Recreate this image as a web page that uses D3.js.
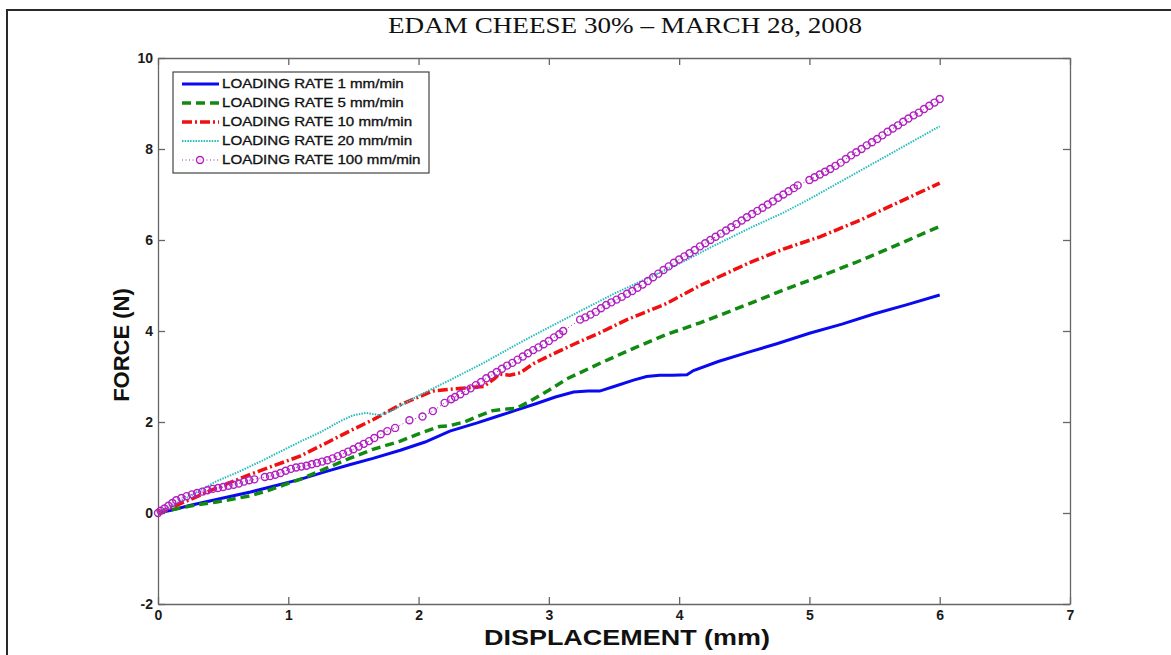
<!doctype html>
<meta charset=utf8>
<title>Edam cheese 30%</title>
<style>
  body {
    margin: 0;
    background: white;
  }

  svg {
    display: block;
  }

  .axis path,
  .axis line {
    stroke: #666;
    stroke-width: 1.3;
  }

  .axis text {
    font-family: "Liberation Sans", Arial, sans-serif;
    font-weight: bold;
    font-size: 14px;
    fill: #1a1a1a;
  }

  .line {
    fill: none;
  }
</style>
<svg width=1171 height=655></svg>
<script src=https://d3js.org/d3.v7.min.js></script>
<script>
  // Series: [displacement (mm), force (N)]
  var rate1 = [
    [0, 0], [0.1, 0.06], [0.25, 0.17], [0.5, 0.33], [0.71, 0.46], [0.9, 0.6], [1.09, 0.74],
    [1.3, 0.92], [1.47, 1.06], [1.65, 1.2], [1.86, 1.38], [2.05, 1.56], [2.24, 1.8], [2.45, 1.98],
    [2.6, 2.12], [2.75, 2.26], [2.9, 2.4], [3.05, 2.55], [3.19, 2.66], [3.3, 2.68], [3.39, 2.68],
    [3.5, 2.78], [3.65, 2.92], [3.75, 3.0], [3.85, 3.03], [3.95, 3.03], [4.06, 3.04], [4.11, 3.13],
    [4.3, 3.33], [4.54, 3.54], [4.75, 3.72], [5.0, 3.95], [5.25, 4.15], [5.5, 4.38], [5.75, 4.58],
    [6.0, 4.79]
  ];

  var rate5 = [
    [0, 0], [0.15, 0.1], [0.3, 0.18], [0.45, 0.24], [0.6, 0.32], [0.71, 0.38], [0.85, 0.5],
    [1.0, 0.65], [1.09, 0.74], [1.25, 0.93], [1.47, 1.2], [1.65, 1.4], [1.86, 1.58], [2.0, 1.74],
    [2.16, 1.9], [2.24, 1.92], [2.35, 2.0], [2.45, 2.12], [2.57, 2.25], [2.65, 2.28], [2.75, 2.3],
    [2.85, 2.45], [3.0, 2.7], [3.14, 2.95], [3.4, 3.3], [3.65, 3.62], [3.9, 3.92], [4.16, 4.18],
    [4.54, 4.6], [4.8, 4.9], [5.08, 5.2], [5.35, 5.5], [5.6, 5.8], [5.8, 6.05], [6.0, 6.3]
  ];

  var rate10 = [
    [0, 0], [0.1, 0.12], [0.25, 0.3], [0.45, 0.55], [0.71, 0.85], [0.9, 1.05], [1.09, 1.25],
    [1.3, 1.55], [1.47, 1.8], [1.65, 2.05], [1.86, 2.38], [2.0, 2.55], [2.11, 2.68], [2.25, 2.72],
    [2.37, 2.75], [2.5, 2.78], [2.58, 2.95], [2.62, 3.05], [2.7, 3.03], [2.78, 3.08], [2.88, 3.28],
    [3.0, 3.45], [3.2, 3.72], [3.39, 3.96], [3.6, 4.25], [3.9, 4.6], [4.16, 5.0], [4.54, 5.5],
    [4.8, 5.8], [5.08, 6.07], [5.4, 6.45], [5.7, 6.85], [6.0, 7.25]
  ];

  var rate20 = [
    [0, 0], [0.1, 0.15], [0.25, 0.38], [0.45, 0.7], [0.6, 0.88], [0.8, 1.15], [0.96, 1.38],
    [1.1, 1.58], [1.25, 1.78], [1.4, 2.02], [1.5, 2.15], [1.6, 2.2], [1.7, 2.15], [1.8, 2.25],
    [1.9, 2.42], [2.0, 2.58], [2.24, 2.92], [2.5, 3.3], [2.75, 3.7], [3.0, 4.08], [3.25, 4.45],
    [3.5, 4.82], [3.75, 5.15], [4.0, 5.48], [4.25, 5.85], [4.57, 6.3], [4.8, 6.6], [5.0, 6.9],
    [5.25, 7.3], [5.5, 7.7], [5.75, 8.1], [6.0, 8.5]
  ];

  var rate100 = [
    [0, 0], [0.02, 0.05], [0.05, 0.1], [0.08, 0.16], [0.11, 0.22], [0.14, 0.28], [0.18, 0.33],
    [0.22, 0.37], [0.26, 0.41], [0.3, 0.44], [0.34, 0.47], [0.38, 0.5], [0.42, 0.53], [0.46, 0.55],
    [0.5, 0.57], [0.54, 0.6], [0.58, 0.62], [0.62, 0.65], [0.66, 0.69], [0.7, 0.72], [0.74, 0.74],
    [0.82, 0.79], [0.86, 0.81], [0.9, 0.84], [0.94, 0.88], [0.98, 0.93], [1.02, 0.97], [1.06, 1.0],
    [1.1, 1.02], [1.14, 1.04], [1.18, 1.07], [1.22, 1.1], [1.26, 1.13], [1.3, 1.16], [1.34, 1.2],
    [1.38, 1.25], [1.42, 1.3], [1.46, 1.35], [1.5, 1.4], [1.54, 1.46], [1.58, 1.52], [1.62, 1.58],
    [1.66, 1.65], [1.71, 1.73], [1.76, 1.8], [1.82, 1.87], [1.93, 2.04], [2.03, 2.12], [2.11, 2.24],
    [2.2, 2.42], [2.25, 2.5], [2.28, 2.55], [2.32, 2.61], [2.36, 2.68], [2.4, 2.74], [2.44, 2.81],
    [2.48, 2.88], [2.52, 2.96], [2.56, 3.03], [2.6, 3.1], [2.64, 3.17], [2.68, 3.24], [2.72, 3.3],
    [2.76, 3.37], [2.8, 3.44], [2.84, 3.51], [2.88, 3.58], [2.92, 3.64], [2.96, 3.71], [3.0, 3.78],
    [3.04, 3.86], [3.08, 3.93], [3.11, 4.0], [3.24, 4.25], [3.28, 4.3], [3.32, 4.36], [3.36, 4.42],
    [3.4, 4.5], [3.44, 4.57], [3.48, 4.63], [3.52, 4.69], [3.56, 4.75], [3.6, 4.82], [3.64, 4.88],
    [3.68, 4.95], [3.72, 5.02], [3.76, 5.1], [3.8, 5.18], [3.84, 5.26], [3.88, 5.34], [3.92, 5.42],
    [3.96, 5.5], [4.0, 5.57], [4.04, 5.64], [4.08, 5.71], [4.12, 5.78], [4.16, 5.86], [4.2, 5.93],
    [4.24, 6.0], [4.28, 6.07], [4.32, 6.14], [4.36, 6.21], [4.4, 6.28], [4.44, 6.35], [4.48, 6.43],
    [4.52, 6.5], [4.56, 6.57], [4.6, 6.64], [4.64, 6.71], [4.68, 6.78], [4.72, 6.85], [4.76, 6.93],
    [4.8, 7.0], [4.84, 7.07], [4.88, 7.14], [4.91, 7.2], [5.0, 7.32], [5.04, 7.38], [5.08, 7.44],
    [5.12, 7.5], [5.16, 7.56], [5.2, 7.63], [5.24, 7.7], [5.28, 7.78], [5.32, 7.86], [5.36, 7.93],
    [5.4, 8.0], [5.44, 8.08], [5.48, 8.15], [5.52, 8.22], [5.56, 8.3], [5.6, 8.38], [5.64, 8.45],
    [5.68, 8.52], [5.72, 8.6], [5.76, 8.67], [5.8, 8.74], [5.84, 8.8], [5.88, 8.88], [5.92, 8.95],
    [5.96, 9.02], [6.0, 9.1]
  ];

  var seriesNames = [
    'LOADING RATE 1 mm/min',
    'LOADING RATE 5 mm/min',
    'LOADING RATE 10 mm/min',
    'LOADING RATE 20 mm/min',
    'LOADING RATE 100 mm/min'
  ];
  var xTicks = [0, 1, 2, 3, 4, 5, 6, 7];
  var yTicks = [-2, 0, 2, 4, 6, 8, 10];

  var styles = [
    { color: '#0a0af0', width: 3, dash: null },
    { color: '#108a10', width: 3.5, dash: '9,5' },
    { color: '#f01010', width: 3.5, dash: '10,3,2,3' },
    { color: '#28bcbc', width: 2, dash: '1.5,1.2' },
    { color: '#b020c0', width: 1, dash: '1,2.5' }
  ];

  var series = [rate1, rate5, rate10, rate20, rate100].map(function(values, i) {
    return { name: seriesNames[i], values: values, style: styles[i] };
  });

  var svg = d3.select('svg');
  var margin = { top: 58, right: 101, bottom: 51, left: 158 };
  var width = 1171 - margin.left - margin.right;
  var height = 655 - margin.top - margin.bottom;

  // outer frame of the scanned figure
  svg.append('path')
    .attr('d', 'M7,655V10H1171')
    .attr('fill', 'none')
    .attr('stroke', '#2a2a2a')
    .attr('stroke-width', 2);

  svg.append('text')
    .attr('x', 625)
    .attr('y', 33)
    .attr('text-anchor', 'middle')
    .attr('textLength', 474)
    .attr('lengthAdjust', 'spacingAndGlyphs')
    .style('font-family', '"Liberation Serif", "Times New Roman", serif')
    .style('font-size', '24px')
    .style('fill', '#111')
    .text('EDAM CHEESE 30% \u2013 MARCH 28, 2008');

  var g = svg.append('g').attr('transform', 'translate(' + margin.left + ',' + margin.top + ')');

  var x = d3.scaleLinear().domain([0, 7]).range([0, width]);
  var y = d3.scaleLinear().domain([-2, 10]).range([height, 0]);

  function plain(d) {
    return String(d);
  }

  g.append('g')
    .attr('class', 'axis x')
    .attr('transform', 'translate(0,' + height + ')')
    .call(d3.axisBottom(x).tickValues(xTicks).tickFormat(plain)
      .tickSize(-7).tickSizeOuter(0).tickPadding(6));

  g.append('g')
    .attr('class', 'axis')
    .call(d3.axisTop(x).tickValues(xTicks).tickSize(-7).tickSizeOuter(0).tickFormat(''));

  g.append('g')
    .attr('class', 'axis y')
    .call(d3.axisLeft(y).tickValues(yTicks).tickFormat(plain)
      .tickSize(-7).tickSizeOuter(0).tickPadding(5));

  g.append('g')
    .attr('class', 'axis')
    .attr('transform', 'translate(' + width + ',0)')
    .call(d3.axisRight(y).tickValues(yTicks).tickSize(-7).tickSizeOuter(0).tickFormat(''));

  svg.append('text')
    .attr('x', 627)
    .attr('y', 645)
    .attr('text-anchor', 'middle')
    .attr('textLength', 286)
    .attr('lengthAdjust', 'spacingAndGlyphs')
    .style('font-family', '"Liberation Sans", Arial, sans-serif')
    .style('font-weight', 'bold')
    .style('font-size', '22px')
    .style('fill', '#111')
    .text('DISPLACEMENT (mm)');

  svg.append('text')
    .attr('transform', 'translate(129,345) rotate(-90)')
    .attr('text-anchor', 'middle')
    .style('font-family', '"Liberation Sans", Arial, sans-serif')
    .style('font-weight', 'bold')
    .style('font-size', '22px')
    .style('fill', '#111')
    .text('FORCE (N)');

  var line = d3.line()
    .x(function(d) { return x(d[0]); })
    .y(function(d) { return y(d[1]); });

  var place = g.selectAll('.series')
    .data(series)
    .enter()
    .append('g')
    .attr('class', 'series');

  place.append('path')
    .attr('class', 'line')
    .attr('d', function(d) { return line(d.values); })
    .attr('stroke', function(d) { return d.style.color; })
    .attr('stroke-width', function(d) { return d.style.width; })
    .attr('stroke-dasharray', function(d) { return d.style.dash; });

  // circle markers on the 100 mm/min run
  g.append('g')
    .selectAll('circle')
    .data(rate100)
    .enter()
    .append('circle')
    .attr('cx', function(d) { return x(d[0]); })
    .attr('cy', function(d) { return y(d[1]); })
    .attr('r', 3.5)
    .attr('fill', 'none')
    .attr('stroke', styles[4].color)
    .attr('stroke-width', 1.4);

  // legend
  var legend = svg.append('g').attr('transform', 'translate(173,72)');

  legend.append('rect')
    .attr('width', 256)
    .attr('height', 101)
    .attr('fill', 'white')
    .attr('stroke', '#444')
    .attr('stroke-width', 1.2);

  var item = legend.selectAll('.item')
    .data(series)
    .enter()
    .append('g')
    .attr('class', 'item')
    .attr('transform', function(d, i) { return 'translate(0,' + (12 + i * 19) + ')'; });

  item.append('line')
    .attr('x1', 9)
    .attr('x2', 46)
    .attr('stroke', function(d) { return d.style.color; })
    .attr('stroke-width', function(d) { return d.style.width; })
    .attr('stroke-dasharray', function(d) { return d.style.dash; });

  item.filter(function(d, i) { return i === 4; })
    .append('circle')
    .attr('cx', 27)
    .attr('r', 3.5)
    .attr('fill', 'none')
    .attr('stroke', styles[4].color)
    .attr('stroke-width', 1.4);

  item.append('text')
    .attr('transform', 'translate(49,0) scale(1.26,1)')
    .attr('dy', '0.36em')
    .style('font-family', '"Liberation Sans", Arial, sans-serif')
    .style('font-size', '12px')
    .style('fill', '#111')
    .style('stroke', '#111')
    .style('stroke-width', 0.3)
    .text(function(d) { return d.name; });
</script>
